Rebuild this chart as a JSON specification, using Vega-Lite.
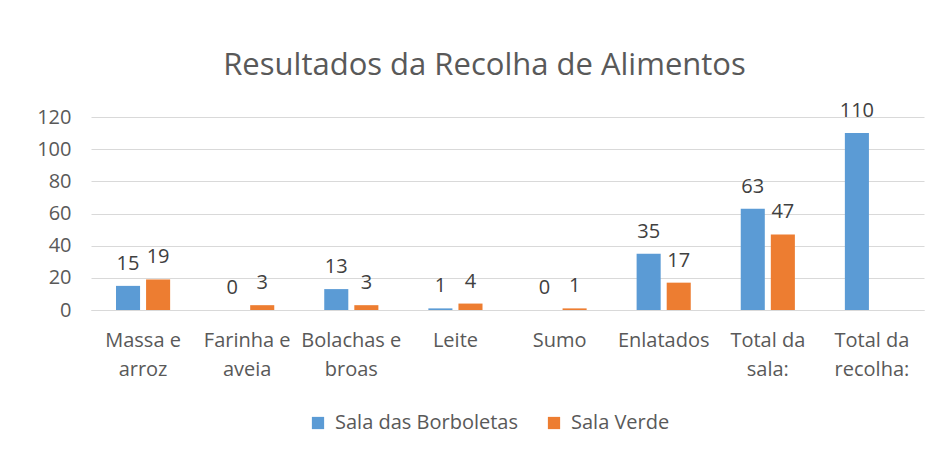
{
  "$schema": "https://vega.github.io/schema/vega-lite/v6.json",
  "width": 833,
  "height": 193,
  "autosize": {"type": "none"},
  "padding": {"left": 91, "top": 117, "right": 24, "bottom": 153},
  "background": "white",
  "title": {
    "text": "Resultados da Recolha de Alimentos",
    "font": "Open Sans",
    "fontSize": 31,
    "fontWeight": "normal",
    "color": "#595959",
    "anchor": "middle",
    "dx": -23,
    "offset": 19
  },
  "data": {
    "values": [
      {"cat": "Massa e arroz", "series": "Sala das Borboletas", "value": 15},
      {"cat": "Massa e arroz", "series": "Sala Verde", "value": 19},
      {"cat": "Farinha e aveia", "series": "Sala das Borboletas", "value": 0},
      {"cat": "Farinha e aveia", "series": "Sala Verde", "value": 3},
      {"cat": "Bolachas e broas", "series": "Sala das Borboletas", "value": 13},
      {"cat": "Bolachas e broas", "series": "Sala Verde", "value": 3},
      {"cat": "Leite", "series": "Sala das Borboletas", "value": 1},
      {"cat": "Leite", "series": "Sala Verde", "value": 4},
      {"cat": "Sumo", "series": "Sala das Borboletas", "value": 0},
      {"cat": "Sumo", "series": "Sala Verde", "value": 1},
      {"cat": "Enlatados", "series": "Sala das Borboletas", "value": 35},
      {"cat": "Enlatados", "series": "Sala Verde", "value": 17},
      {"cat": "Total da sala:", "series": "Sala das Borboletas", "value": 63},
      {"cat": "Total da sala:", "series": "Sala Verde", "value": 47},
      {"cat": "Total da recolha:", "series": "Sala das Borboletas", "value": 110}
    ]
  },
  "encoding": {
    "x": {
      "field": "cat",
      "type": "nominal",
      "sort": null,
      "title": null,
      "scale": {"paddingInner": 0.48, "paddingOuter": 0.24},
      "axis": {
        "labelAngle": 0,
        "labelFont": "Open Sans",
        "labelFontSize": 20,
        "labelColor": "#595959",
        "labelLineHeight": 29,
        "labelBaseline": "top",
        "labelPadding": 20,
        "ticks": false,
        "domain": true,
        "domainColor": "#D9D9D9",
        "labelExpr": "indexof(datum.label, ' ') >= 0 ? [substring(datum.label, 0, lastindexof(datum.label, ' ')), substring(datum.label, lastindexof(datum.label, ' ') + 1)] : datum.label"
      }
    },
    "xOffset": {
      "field": "series",
      "type": "nominal",
      "scale": {"domain": ["Sala das Borboletas", "Sala Verde"], "paddingInner": 0.2}
    },
    "y": {
      "field": "value",
      "type": "quantitative",
      "title": null,
      "scale": {"domain": [0, 120]},
      "axis": {
        "values": [0, 20, 40, 60, 80, 100, 120],
        "labelFont": "Open Sans",
        "labelFontSize": 20,
        "labelColor": "#595959",
        "labelPadding": 20,
        "ticks": false,
        "domain": false,
        "grid": true,
        "gridColor": "#D9D9D9"
      }
    }
  },
  "layer": [
    {
      "mark": {"type": "bar"},
      "encoding": {
        "color": {
          "field": "series",
          "type": "nominal",
          "title": null,
          "scale": {"domain": ["Sala das Borboletas", "Sala Verde"], "range": ["#5B9BD5", "#ED7D31"]},
          "legend": {
            "orient": "none",
            "direction": "horizontal",
            "legendX": 217,
            "legendY": 296,
            "symbolType": "square",
            "symbolSize": 150,
            "symbolStrokeWidth": 0,
            "labelFont": "Open Sans",
            "labelFontSize": 20,
            "labelColor": "#595959",
            "labelLimit": 400,
            "labelOffset": 7,
            "columnPadding": 26,
            "padding": 0
          }
        }
      }
    },
    {
      "mark": {"type": "text", "baseline": "alphabetic", "dy": -16, "font": "Open Sans", "fontSize": 20, "color": "#404040"},
      "encoding": {
        "text": {"field": "value", "type": "quantitative"}
      }
    }
  ],
  "config": {
    "view": {"stroke": null}
  }
}
